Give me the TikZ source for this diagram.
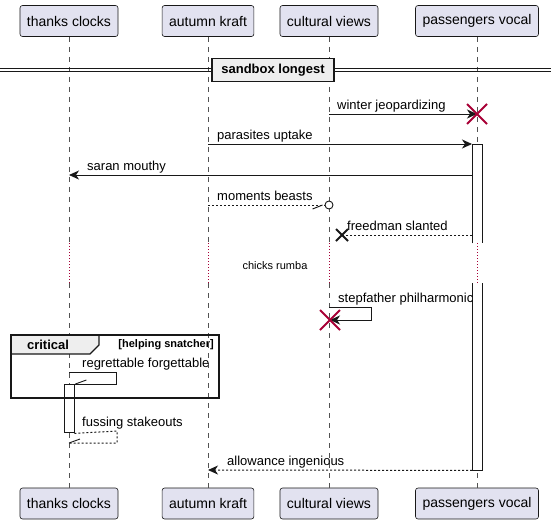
\documentclass[tikz,border=0pt]{standalone}
\usepackage{fontspec}
\setmainfont{Liberation Sans}
\usetikzlibrary{arrows.meta}
\definecolor{partfill}{HTML}{E2E2F0}
\definecolor{ink}{HTML}{181818}
\definecolor{xred}{HTML}{A80036}
\definecolor{sepfill}{HTML}{EEEEEE}
\begin{document}
\begin{tikzpicture}[x=1pt,y=-1pt,
  part/.style={draw=ink, fill=partfill, rounded corners=2.5pt, line width=0.6pt, minimum height=31pt, inner xsep=7pt, inner ysep=0pt, font=\fontsize{14}{16}\selectfont},
  lifeline/.style={draw=ink!75, line width=0.7pt, dash pattern=on 5pt off 5pt},
  delayline/.style={draw=xred, line width=1pt, dash pattern=on 1pt off 2pt},
  msg/.style={draw=ink, line width=0.9pt},
  ret/.style={msg, line width=1pt, dash pattern=on 2pt off 2pt},
  tip/.style={-{Stealth[length=10pt,width=9pt,inset=3pt]}},
  lbl/.style={font=\fontsize{13}{15}\selectfont, inner sep=0pt, anchor=base west},
  actbox/.style={fill=white, draw=none, minimum width=10pt, inner sep=0pt, anchor=north west},
  actline/.style={draw=ink, line width=0.9pt},
  bigx/.style={draw=xred, line width=1.8pt},
  smallx/.style={draw=ink, line width=1.8pt},
]
\useasboundingbox (0,0) rectangle (551,523);

% participants
\node[part] (tcT) at (69,21) {thanks clocks};
\node[part] (akT) at (208,21) {autumn kraft};
\node[part] (cvT) at (329,21) {cultural views};
\node[part] (pvT) at (477,21) {passengers vocal};
\node[part] (tcB) at (69,503.5) {thanks clocks};
\node[part] (akB) at (208,503.5) {autumn kraft};
\node[part] (cvB) at (329,503.5) {cultural views};
\node[part] (pvB) at (477,503.5) {passengers vocal};

\coordinate (dtop) at (0,243);
\coordinate (dbot) at (0,283);

% lifelines
\foreach \p in {tc,ak,cv,pv}{
  \draw[lifeline] (\p T.south) -- (\p T.south |- dtop);
  \draw[delayline] (\p T.south |- dtop) -- (\p T.south |- dbot);
  \draw[lifeline] (\p T.south |- dbot) -- (\p B.north);
}

% separator
\draw[ink, line width=0.9pt] (0,68) -- (551,68) (0,71.5) -- (551,71.5);
\node[draw=ink, line width=1.8pt, fill=sepfill, minimum width=122pt, minimum height=23pt, inner sep=0pt, font=\bfseries\fontsize{13}{15}\selectfont] (sep) at (273,70) {sandbox longest};

% activation boxes
\node[actbox, minimum height=99pt] (a1) at (472,144) {};
\draw[actline] (a1.south west) -- (a1.north west) -- (a1.north east) -- (a1.south east);
\node[actbox, minimum height=187pt] (a2) at (472,283) {};
\draw[actline] (a2.north west) -- (a2.south west) -- (a2.south east) -- (a2.north east);
\node[actbox, minimum height=48pt] (a3) at (64,384) {};
\draw[actline] (a3.south west) rectangle (a3.north east);

% 1 winter jeopardizing
\coordinate (m1s) at (329,114);
\coordinate (m1e) at (477,114);
\draw[msg,tip] (m1s) -- (m1e);
\node[lbl] (t1) at (337,109) {winter jeopardizing};
\draw[bigx] ([shift={(-10,-10)}]m1e) -- ([shift={(10,10)}]m1e) ([shift={(-10,10)}]m1e) -- ([shift={(10,-10)}]m1e);

% 2 parasites uptake
\coordinate (m2s) at (208,144);
\draw[msg,tip] (m2s) -- (a1.north west);
\node[lbl] (t2) at (217,139) {parasites uptake};

% 3 saran mouthy
\coordinate (m3s) at (472,175);
\coordinate (m3e) at (69,175);
\draw[msg,tip] (m3s) -- (m3e);
\node[lbl] (t3) at (87,170) {saran mouthy};

% 4 moments beasts
\coordinate (m4s) at (208,205);
\node[circle, draw=ink, line width=0.9pt, fill=white, minimum size=8pt, inner sep=0pt] (c4) at (329,205) {};
\draw[ret] (m4s) -- (c4.west);
\draw[msg] ([xshift=-2pt]c4.west) -- ++(-10,4);
\node[lbl] (t4) at (217,200) {moments beasts};

% 5 freedman slanted
\coordinate (m5s) at (472,235);
\coordinate (m5e) at (342,235);
\draw[ret] (m5s) -- (m5e);
\draw[smallx] ([shift={(-6,-6)}]m5e) -- ([shift={(6,6)}]m5e) ([shift={(-6,6)}]m5e) -- ([shift={(6,-6)}]m5e);
\node[lbl] (t5) at (347,230) {freedman slanted};

% delay
\node[font=\fontsize{11}{13}\selectfont, inner sep=0pt] (dl) at (275,266) {chicks rumba};

% 7 stepfather philharmonic
\coordinate (m7s) at (329,307);
\coordinate (m7e) at (330,320);
\draw[msg,tip] (m7s) -- (371,307) -- (371,320) -- (m7e);
\node[lbl] (t7) at (338,302) {stepfather philharmonic};
\draw[bigx] ([shift={(-10,-10)}]m7e) -- ([shift={(10,10)}]m7e) ([shift={(-10,10)}]m7e) -- ([shift={(10,-10)}]m7e);

% critical group
\coordinate (g1) at (11,335);
\coordinate (g2) at (219,398);
\filldraw[fill=sepfill, draw=ink, line width=1.2pt] (11,335) -- (99,335) -- (99,345) -- (90,354) -- (11,354) -- cycle;
\draw[ink, line width=1.8pt] (g1) rectangle (g2);
\node[font=\bfseries\fontsize{13}{15}\selectfont, inner sep=0pt] (gt) at (48,345) {critical};
\node[font=\bfseries\fontsize{11}{13}\selectfont, inner sep=0pt, anchor=east] (gc) at (214,345) {[helping snatcher]};

% 9 regrettable forgettable
\coordinate (m9s) at (69,372);
\draw[msg] (m9s) -- (116,372) -- (116,384) -- (a3.north east);
\draw[msg] ([xshift=1pt]a3.north east) -- ++(11,-4);
\node[lbl] (t9) at (82,367) {regrettable forgettable};

% 10 fussing stakeouts
\coordinate (m10e) at (69,443);
\draw[ret] ([yshift=-1pt]a3.south east) -- (117,431) -- (117,443) -- (m10e);
\draw[msg] (m10e) -- ++(11,-4);
\node[lbl] (t10) at (82,426) {fussing stakeouts};

% 11 allowance ingenious
\coordinate (m11e) at (208,470);
\draw[ret,tip] (a2.south west) -- (m11e);
\node[lbl] (t11) at (227,465) {allowance ingenious};
\end{tikzpicture}
\end{document}
